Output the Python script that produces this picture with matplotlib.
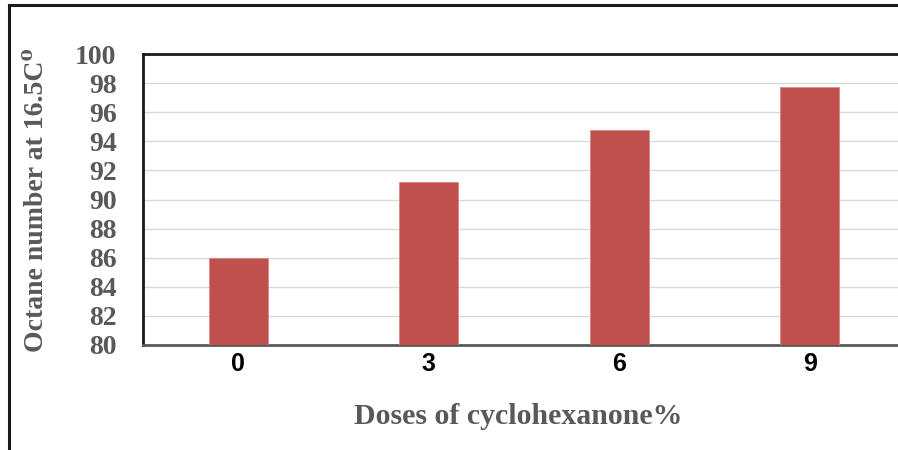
import matplotlib.pyplot as plt
from matplotlib.patches import Rectangle

doses = ["0", "3", "6", "9"]
octane = [86.0, 91.2, 94.8, 97.7]
y_ticks = [80, 82, 84, 86, 88, 90, 92, 94, 96, 98, 100]

W, H = 898, 450
fig = plt.figure(figsize=(W / 100, H / 100), dpi=100)

# outer chart border (cut off on right and bottom in the original)
fig.patches.append(Rectangle((9 / W, -0.1), 1.2, (H - 5) / H + 0.1,
                             transform=fig.transFigure, fill=False,
                             edgecolor="#1a1a1a", linewidth=2.2))

left, right, top, bottom = 143, 905, 54, 345
ax = fig.add_axes([left / W, 1 - bottom / H, (right - left) / W, (bottom - top) / H])

x = range(len(doses))
ax.bar(x, octane, width=0.31, color="#C0504D", edgecolor="#D98A88",
       linewidth=0.6, zorder=3)

ax.set_xlim(-0.5, len(doses) - 0.5)
ax.set_ylim(80, 100)
ax.set_yticks(y_ticks)
ax.yaxis.grid(True, color="#D9D9D9", linewidth=1.0, zorder=0)

serif = ["Liberation Serif", "DejaVu Serif"]
ax.set_yticklabels([str(v) for v in y_ticks], family=serif, fontweight="bold",
                   fontsize=20, color="#595959")
ax.set_xticks(list(x))
ax.set_xticklabels(doses, family="Liberation Sans", fontweight="bold",
                   fontsize=18, color="black")
ax.tick_params(axis="both", length=0)
ax.tick_params(axis="y", pad=19)
ax.tick_params(axis="x", pad=5)

for s in ["left", "top"]:
    ax.spines[s].set_color("#1a1a1a")
    ax.spines[s].set_linewidth(2.0)
ax.spines["bottom"].set_color("#595959")
ax.spines["bottom"].set_linewidth(2.0)
ax.spines["right"].set_visible(False)

fig.text(37 / W, 1 - 200 / H, "Octane number at 16.5C\u2070", rotation=90,
         ha="center", va="center", family=serif, fontweight="bold",
         fontsize=20, color="#595959")
fig.text(518 / W, 1 - 417 / H, "Doses of cyclohexanone%", ha="center",
         va="center", family=serif, fontweight="bold", fontsize=21.5,
         color="#595959")

fig.savefig("out.png", dpi=100)
